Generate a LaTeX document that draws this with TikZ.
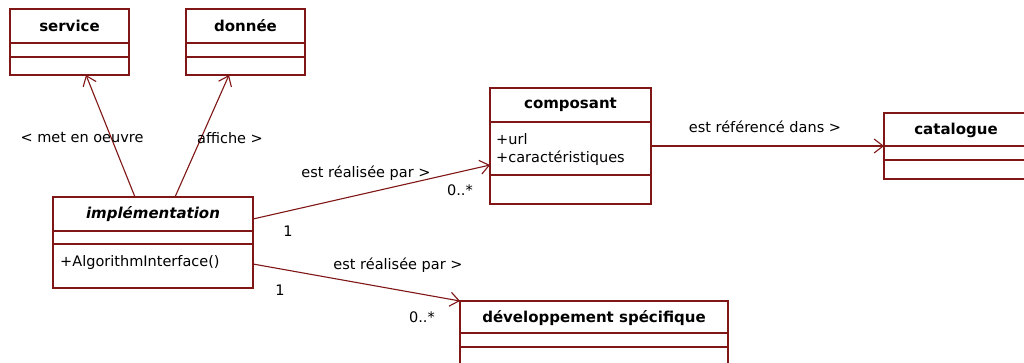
\documentclass[tikz,border=0pt]{standalone}
\usepackage{fontspec}
\setmainfont{DejaVu Sans}
\usetikzlibrary{arrows.meta}
\definecolor{umlred}{RGB}{128,22,22}

\begin{document}
\begin{tikzpicture}[x=1pt, y=-1pt,
	classbox/.style={draw=umlred, line width=1.1pt, inner sep=0pt, outer sep=0pt, anchor=north west},
	classname/.style={font=\fontsize{15}{18}\selectfont\bfseries, inner sep=0pt},
	member/.style={font=\fontsize{14.5}{17}\selectfont, anchor=west, inner sep=0pt},
	assoc/.style={draw=umlred, line width=1.1pt, -{Straight Barb[length=9pt,width=14pt]}},
	lbl/.style={font=\fontsize{14.5}{17}\selectfont, inner sep=0pt}]
		
		\clip (0,0) rectangle (1024,362);
		\fill[white] (0,0) rectangle (1024,362);
		
		% service
		\node[classbox, minimum width=119pt, minimum height=66pt] (service) at (10,9) {};
		\node[classname] (service-name) at ([yshift=-17pt]service.north) {service};
		\draw[umlred, line width=1.1pt] ([yshift=-34pt]service.north west) -- ([yshift=-34pt]service.north east);
		\draw[umlred, line width=1.1pt] ([yshift=-48pt]service.north west) -- ([yshift=-48pt]service.north east);
		
		% donnee
		\node[classbox, minimum width=119pt, minimum height=66pt] (donnee) at (186,9) {};
		\node[classname] (donnee-name) at ([yshift=-17pt]donnee.north) {donnée};
		\draw[umlred, line width=1.1pt] ([yshift=-34pt]donnee.north west) -- ([yshift=-34pt]donnee.north east);
		\draw[umlred, line width=1.1pt] ([yshift=-48pt]donnee.north west) -- ([yshift=-48pt]donnee.north east);
		
		% implementation
		\node[classbox, minimum width=200pt, minimum height=91pt] (impl) at (53,197) {};
		\node[classname, font=\fontsize{15}{18}\selectfont\bfseries\itshape] (impl-name) at ([yshift=-17pt]impl.north) {implémentation};
		\draw[umlred, line width=1.1pt] ([yshift=-34pt]impl.north west) -- ([yshift=-34pt]impl.north east);
		\draw[umlred, line width=1.1pt] ([yshift=-47pt]impl.north west) -- ([yshift=-47pt]impl.north east);
		\node[member] (impl-op) at (60,262) {+AlgorithmInterface()};
		
		% composant
		\node[classbox, minimum width=161pt, minimum height=116pt] (composant) at (490,88) {};
		\node[classname] (composant-name) at ([yshift=-17pt]composant.north) {composant};
		\draw[umlred, line width=1.1pt] ([yshift=-34pt]composant.north west) -- ([yshift=-34pt]composant.north east);
		\draw[umlred, line width=1.1pt] ([yshift=-87pt]composant.north west) -- ([yshift=-87pt]composant.north east);
		\node[member] (composant-url) at (496,139) {+url};
		\node[member] (composant-car) at (496,158) {+caractéristiques};
		
		% catalogue
		\node[classbox, minimum width=144pt, minimum height=66pt] (catalogue) at (884,113) {};
		\node[classname] (catalogue-name) at ([yshift=-17pt]catalogue.north) {catalogue};
		\draw[umlred, line width=1.1pt] ([yshift=-33pt]catalogue.north west) -- ([yshift=-33pt]catalogue.north east);
		\draw[umlred, line width=1.1pt] ([yshift=-47pt]catalogue.north west) -- ([yshift=-47pt]catalogue.north east);
		
		% developpement specifique
		\node[classbox, minimum width=268pt, minimum height=80pt] (devspe) at (460,301) {};
		\node[classname] (devspe-name) at ([yshift=-17pt]devspe.north) {développement spécifique};
		\draw[umlred, line width=1.1pt] ([yshift=-32pt]devspe.north west) -- ([yshift=-32pt]devspe.north east);
		\draw[umlred, line width=1.1pt] ([yshift=-46pt]devspe.north west) -- ([yshift=-46pt]devspe.north east);
		
		% associations
		\draw[assoc] ([xshift=82pt]impl.north west) -- ([xshift=76pt]service.south west);
		\draw[assoc] ([xshift=122pt]impl.north west) -- ([xshift=43pt]donnee.south west);
		\draw[assoc] ([yshift=-22pt]impl.north east) -- ([yshift=-77pt]composant.north west);
		\draw[assoc] ([yshift=-67pt]impl.north east) -- (devspe.north west);
		\draw[assoc] (composant.east) -- ([yshift=-33pt]catalogue.north west);
		
		% labels
		\node[lbl] (lbl-oeuvre) at (82,138) {< met en oeuvre};
		\node[lbl] (lbl-affiche) at (230,138) {affiche >};
		\node[lbl] (lbl-real1) at (366,173) {est réalisée par >};
		\node[lbl] (mult-a1) at (288,231) {1};
		\node[lbl] (mult-b1) at (460,190) {0..*};
		\node[lbl] (lbl-real2) at (398,265) {est réalisée par >};
		\node[lbl] (mult-a2) at (280,290) {1};
		\node[lbl] (mult-b2) at (422,317) {0..*};
		\node[lbl] (lbl-ref) at (765,127) {est référencé dans >};
		
	\end{tikzpicture}
\end{document}
